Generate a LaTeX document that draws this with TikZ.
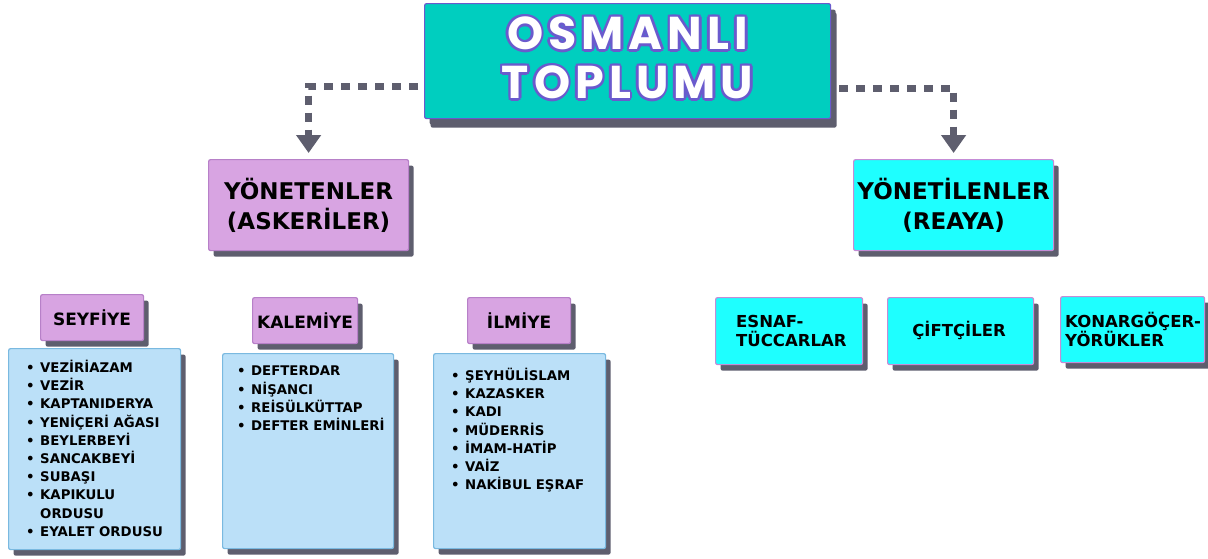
\documentclass[tikz,border=0pt]{standalone}
\usepackage{fontspec}
\setmainfont{DejaVu Sans}
\newfontfamily\titlefont[LetterSpace=11]{Poppins}
\usetikzlibrary{arrows.meta,shadows,positioning}
\definecolor{titleColor}{RGB}{0,206,191}
\definecolor{titleLineColor}{RGB}{106,90,205}
\definecolor{shadowColor}{RGB}{94,94,110}
\definecolor{askeriColor}{RGB}{216,164,226}
\definecolor{askeriLineColor}{RGB}{183,128,200}
\definecolor{reayaColor}{RGB}{30,255,255}
\definecolor{reayaLineColor}{RGB}{197,140,214}
\definecolor{listColor}{RGB}{187,224,248}
\definecolor{listLineColor}{RGB}{122,185,224}
\newcommand{\olay}[3]{\makebox[0pt][l]{\kern#1\raisebox{#2}{\color{titleLineColor}#3}}}
\newcommand{\outlined}[1]{\olay{2.6pt}{0pt}{#1}\olay{-2.6pt}{0pt}{#1}\olay{0pt}{2.6pt}{#1}\olay{0pt}{-2.6pt}{#1}\olay{1.9pt}{1.9pt}{#1}\olay{-1.9pt}{1.9pt}{#1}\olay{1.9pt}{-1.9pt}{#1}\olay{-1.9pt}{-1.9pt}{#1}{\color{white}#1}}
\newcommand{\itm}[1]{\makebox[14pt][l]{\textbullet}#1}
\newcommand{\itmcont}[1]{\hspace*{14pt}#1}
\tikzset{panel/.style={draw, line width=1.2pt, rounded corners=2pt, inner sep=0pt, anchor=north west, general shadow={fill=shadowColor, shadow xshift=5pt, shadow yshift=-6pt}}}
\tikzset{titlebox/.style={panel, fill=titleColor, draw=titleLineColor, align=center, general shadow={fill=shadowColor, shadow xshift=6pt, shadow yshift=-9pt}}}
\tikzset{askeri/.style={panel, fill=askeriColor, draw=askeriLineColor, align=center}}
\tikzset{reaya/.style={panel, fill=reayaColor, draw=reayaLineColor}}
\tikzset{listbox/.style={panel, fill=listColor, draw=listLineColor}}
\tikzset{items/.style={anchor=north west, inner sep=0pt, align=left, font=\fontsize{13.3}{18.2}\selectfont\bfseries}}
\tikzstyle{dasharrow} = [draw=shadowColor, line width=7pt, dash pattern=on 9pt off 8pt, -{Triangle[width=24pt,length=18pt]}, shorten >=6pt]

\begin{document}
\begin{tikzpicture}[x=1pt, y=-1pt]
	\useasboundingbox (0,0) rectangle (1208,558);
	% Nodes
	\node (title) [titlebox, minimum width=406pt, minimum height=115pt, text depth=9pt, font=\titlefont\bfseries\fontsize{46}{49}\selectfont] at (424,3) {\outlined{OSMANLI}\\ \outlined{TOPLUMU}};

	\node (yonetenler) [askeri, minimum width=200pt, minimum height=91pt, font=\fontsize{23}{30}\selectfont\bfseries] at (208,159) {YÖNETENLER\\ (ASKERİLER)};
	\node (yonetilenler) [reaya, align=center, minimum width=200pt, minimum height=91pt, font=\fontsize{23}{30}\selectfont\bfseries] at (853,159) {YÖNETİLENLER\\ (REAYA)};

	\node (seyfiye) [askeri, minimum width=103pt, minimum height=46pt, font=\fontsize{17}{20}\selectfont\bfseries] at (40,294) {SEYFİYE};
	\node (kalemiye) [askeri, minimum width=105pt, minimum height=46pt, font=\fontsize{17}{20}\selectfont\bfseries] at (252,297) {KALEMİYE};
	\node (ilmiye) [askeri, minimum width=103pt, minimum height=46pt, font=\fontsize{17}{20}\selectfont\bfseries] at (467,297) {İLMİYE};

	\node (seyfiyelist) [listbox, minimum width=172pt, minimum height=201pt] at (8,348) {};
	\node (kalemiyelist) [listbox, minimum width=171pt, minimum height=195pt] at (222,353) {};
	\node (ilmiyelist) [listbox, minimum width=172pt, minimum height=195pt] at (433,353) {};

	\node (seyfiyeitems) [items] at (26,360) {\itm{VEZİRİAZAM}\\ \itm{VEZİR}\\ \itm{KAPTANIDERYA}\\ \itm{YENİÇERİ AĞASI}\\ \itm{BEYLERBEYİ}\\ \itm{SANCAKBEYİ}\\ \itm{SUBAŞI}\\ \itm{KAPIKULU}\\ \itmcont{ORDUSU}\\ \itm{EYALET ORDUSU}};
	\node (kalemiyeitems) [items] at (237,366) {\itm{DEFTERDAR}\\ \itm{NİŞANCI}\\ \itm{REİSÜLKÜTTAP}\\ \itm{DEFTER EMİNLERİ}};
	\node (ilmiyeitems) [items] at (451,368) {\itm{ŞEYHÜLİSLAM}\\ \itm{KAZASKER}\\ \itm{KADI}\\ \itm{MÜDERRİS}\\ \itm{İMAM-HATİP}\\ \itm{VAİZ}\\ \itm{NAKİBUL EŞRAF}};

	\node (esnaf) [reaya, minimum width=147pt, minimum height=67pt] at (715,297) {};
	\node (ciftciler) [reaya, minimum width=146pt, minimum height=67pt] at (887,297) {};
	\node (konargocer) [reaya, minimum width=144pt, minimum height=66pt] at (1060,296) {};
	\node (esnaftext) [items, anchor=west, font=\fontsize{16.5}{19}\selectfont\bfseries] at (736,331) {ESNAF-\\ TÜCCARLAR};
	\node (ciftcilertext) [items, anchor=center, font=\fontsize{16.5}{19}\selectfont\bfseries] at (959,330) {ÇİFTÇİLER};
	\node (konargocertext) [items, anchor=west, font=\fontsize{16.5}{19}\selectfont\bfseries] at (1065,329) {KONARGÖÇER-\\ YÖRÜKLER};

	% Connectors
	\draw [dasharrow] ([xshift=-6pt, yshift=-25pt]title.west) -| (yonetenler.north);
	\draw [dasharrow] ([xshift=8pt, yshift=-27pt]title.east) -| (yonetilenler.north);

\end{tikzpicture}
\end{document}
